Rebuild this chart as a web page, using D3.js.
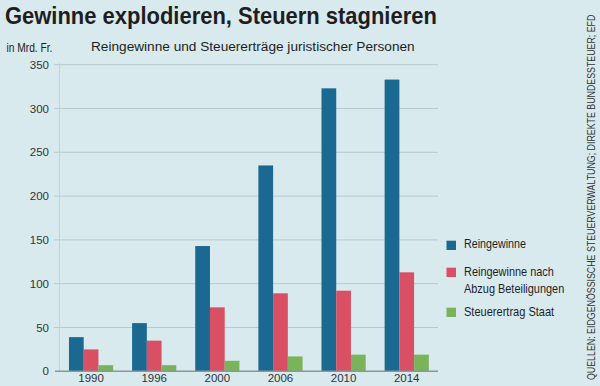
<!DOCTYPE html>
<html><head><meta charset="utf-8">
<script src="https://cdnjs.cloudflare.com/ajax/libs/d3/7.8.5/d3.min.js"></script>
<style>body{margin:0;background:#d8eaee;}svg{display:block;}</style>
</head><body>
<script>
const years = ["1990","1996","2000","2006","2010","2014"];
const seriesNames = ["Reingewinne","Reingewinne nach Abzug Beteiligungen","Steuerertrag Staat"];
const reingewinne = [39, 55, 143, 235, 323, 333];
const nachAbzug = [25, 35, 73, 89, 92, 113];
const steuerertrag = [7, 7, 12, 17, 19, 19];
const yTicks = [0,50,100,150,200,250,300,350];
const colors = ["#1b6890","#d94f63","#79b45a"];
const series = [reingewinne, nachAbzug, steuerertrag];

const W=600,H=386;
const svg=d3.select("body").append("svg").attr("width",W).attr("height",H);
svg.append("rect").attr("width",W).attr("height",H).attr("fill","#d8eaee");

const sans = "'Liberation Sans','Arial',sans-serif";
// place text at (x,y) with given font-size, then squeeze horizontally to target width
function squeezed(parent, x, y, fs, target, txt, weight){
  const t = parent.append("text").attr("x",0).attr("y",0).attr("font-family",sans)
    .attr("font-size",fs).attr("font-weight",weight||"normal").attr("fill","#1e1e1e").text(txt);
  const w = t.node().getComputedTextLength();
  t.attr("transform",`translate(${x},${y}) scale(${target/w},1)`);
  return t;
}
squeezed(svg, 5, 24, 23.5, 432, "Gewinne explodieren, Steuern stagnieren", "bold");
squeezed(svg, 6.5, 51.7, 12.5, 46, "in Mrd. Fr.");
squeezed(svg, 91, 51, 13.5, 324, "Reingewinne und Steuererträge juristischer Personen");

const x0 = d3.scaleBand().domain(years).range([59.5,438.3]).paddingInner(0.3).paddingOuter(0.15);
const x1 = d3.scaleBand().domain(d3.range(3)).range([0,x0.bandwidth()]);
const y = d3.scaleLinear().domain([0,350]).range([371.3,64.7]);

// gridlines
const g = svg.append("g");
g.selectAll("line.grid").data(yTicks.filter(d=>d>0)).join("line")
  .attr("x1",54).attr("x2",438).attr("y1",d=>y(d)).attr("y2",d=>y(d))
  .attr("stroke","#b9c9cd").attr("stroke-width",1);
g.append("line").attr("x1",59.5).attr("x2",59.5).attr("y1",y(350)-2).attr("y2",y(0))
  .attr("stroke","#c4d3d7").attr("stroke-width",1);

// y axis labels
const yAxis = d3.axisLeft(y).tickValues(yTicks).tickSize(0).tickPadding(0);
const ya = svg.append("g").attr("transform","translate(49,0)").call(yAxis);
ya.select(".domain").remove();
ya.selectAll("text").attr("font-family",sans).attr("font-size",11.5).attr("fill","#333");

// bars
const groups = svg.append("g").selectAll("g").data(years).join("g")
  .attr("transform",d=>`translate(${x0(d)},0)`);
groups.selectAll("rect").data((d,i)=>series.map((s,k)=>({k,v:s[i]}))).join("rect")
  .attr("x",d=>x1(d.k)).attr("width",x1.bandwidth())
  .attr("y",d=>y(d.v)).attr("height",d=>y(0)-y(d.v))
  .attr("fill",d=>colors[d.k]);

// baseline
svg.append("line").attr("x1",55).attr("x2",438).attr("y1",y(0)).attr("y2",y(0))
  .attr("stroke","#8a9699").attr("stroke-width",1.5);

// x axis labels
const xAxis = d3.axisBottom(x0).tickSize(0).tickPadding(0);
const xa = svg.append("g").attr("transform",`translate(0,${y(0)+3})`).call(xAxis);
xa.select(".domain").remove();
xa.selectAll("text").attr("font-family",sans).attr("font-size",11.5).attr("fill","#333").attr("dy","0.71em");

// legend
const legendItems = [
  {k:0, sq:240.7, lines:[["Reingewinne",248.3,62]]},
  {k:1, sq:267.7, lines:[["Reingewinne nach",275.7,90],["Abzug Beteiligungen",293.3,100.3]]},
  {k:2, sq:307.7, lines:[["Steuerertrag Staat",316,90.3]]}
];
const lg = svg.append("g");
legendItems.forEach(it=>{
  lg.append("rect").attr("x",446.5).attr("y",it.sq).attr("width",9.5).attr("height",9.3).attr("fill",colors[it.k]);
  it.lines.forEach(([ln,by,w])=>{ squeezed(lg, 464, by, 13, w, ln); });
});

// source
const srcG = svg.append("g").attr("transform","translate(595,380) rotate(-90)");
squeezed(srcG, 0, 0, 10.5, 366, "QUELLEN: EIDGENÖSSISCHE STEUERVERWALTUNG; DIREKTE BUNDESSTEUER; EFD").attr("fill","#333");
</script>
</body></html>
